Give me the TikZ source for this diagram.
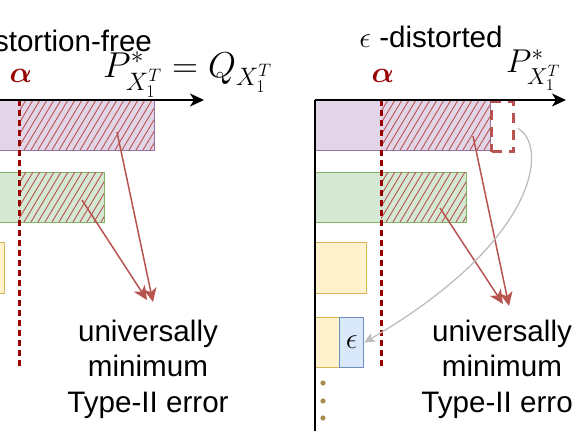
\RequirePackage{fix-cm}
\documentclass[tikz,border=0pt]{standalone}
\usepackage[no-math]{fontspec}
\setmainfont{Liberation Sans}
\usepackage{amsmath,amssymb,bm}
\usetikzlibrary{arrows.meta}
\definecolor{purfill}{HTML}{E1D5E7}
\definecolor{purline}{HTML}{9673A6}
\definecolor{grnfill}{HTML}{D5E8D4}
\definecolor{grnline}{HTML}{82B366}
\definecolor{yelfill}{HTML}{FFF2CC}
\definecolor{yelline}{HTML}{D6B656}
\definecolor{blufill}{HTML}{DAE8FC}
\definecolor{bluline}{HTML}{6C8EBF}
\definecolor{hatred}{HTML}{B85450}
\definecolor{alpred}{HTML}{990000}
\definecolor{dotbrown}{HTML}{A68B4C}
\definecolor{arrgray}{HTML}{BDBDBD}

% sketchy hatch between x0,x1 and y0(top),y1(bottom)
\newcommand{\hatchbox}[4]{%
  \begin{scope}
    \clip (#1,#3) rectangle (#2,#4);
    \foreach \h in {0,7,...,210}
      \draw[hat] (#1+\h-30,#4) -- ++(30,-50);
  \end{scope}}

\begin{document}
\begin{tikzpicture}[
  x=1pt,y=-1pt,
  every node/.style={font=\fontsize{29.6pt}{35.5pt}\selectfont},
  bar/.style={draw,line width=1.2pt,anchor=north west,inner sep=0pt,
              minimum height=50pt},
  BP/.style={bar,draw=purline,fill=purfill},
  BG/.style={bar,draw=grnline,fill=grnfill},
  BY/.style={bar,draw=yelline,fill=yelfill},
  BB/.style={bar,draw=bluline,fill=blufill},
  hat/.style={hatred,line width=0.9pt},
  al/.style={alpred,line width=3pt,dash pattern=on 6pt off 4pt},
  ax/.style={line width=1.6pt,-{Stealth[length=14pt,width=13pt,inset=4pt]}},
  ar/.style={hatred,line width=1.5pt,-{Stealth[length=14pt,width=13pt,inset=4pt]}},
  ag/.style={arrgray,line width=1.3pt,-{Stealth[length=11pt,width=10pt,inset=3pt]}},
  T/.style={align=center,inner sep=0pt}
]
\useasboundingbox (0,0) rectangle (574,431);
\clip (0,0) rectangle (574,431);

% left: distortion-free
\node[BP,minimum width=164pt](pL) at (-10,100) {};
\node[BG,minimum width=114pt](gL) at (-10,172) {};
\node[BY,minimum width=14pt,minimum height=51pt](yL) at (-10,242) {};
\hatchbox{19}{154}{100}{150}
\hatchbox{19}{104}{172}{222}
\draw[al] (19,100) -- (19,367);
\node[anchor=base](tL) at (59,52) {Distortion-free};
\node[alpred](aL) at (21,76) {$\bm{\alpha}$};
\node[anchor=base west,inner sep=0pt,font=\fontsize{36pt}{42pt}\selectfont](qL)
     at (103,77) {$P^*_{X_1^T}=Q_{X_1^T}$};
\coordinate (xL) at (-5,100);
\coordinate (xLe) at (204,100);
\draw[ax] (xL) -- (xLe);
\node[T](uL) at (148,369) {universally\\minimum\\Type-II error};
\coordinate (sL1) at (117,132);
\coordinate (sL2) at (82,200);
\coordinate (eL1) at (153,302);
\coordinate (eL2) at (147,300);
\draw[ar] (sL1) -- (eL1);
\draw[ar] (sL2) -- (eL2);

% right: epsilon-distorted
\node[BP,minimum width=175pt](pR) at (315,100) {};
\node[BG,minimum width=151pt](gR) at (315,172) {};
\node[BY,minimum width=51pt,minimum height=51pt](yR) at (315,242) {};
\node[BY,minimum width=24pt](y2R) at (315,317) {};
\node[BB,minimum width=24pt](bE) at (339,317) {$\epsilon$};
\hatchbox{381}{490}{100}{150}
\hatchbox{381}{466}{172}{222}
\node[bar,hatred,dashed,line width=3pt,dash pattern=on 10pt off 7pt,
      minimum width=22pt](dR) at (490,100) {};
\draw[al] (381,100) -- (381,367);
\foreach \y in {383,401,418}
  \fill[dotbrown] (323,\y) circle (2.6pt);
\node[anchor=base](tR) at (431,47) {$\epsilon$ -distorted};
\node[alpred](aR) at (383,76) {$\bm{\alpha}$};
\node[anchor=base west,inner sep=0pt,font=\fontsize{33pt}{40pt}\selectfont](qR)
     at (506,72) {$P^*_{X_1^T}$};
\coordinate (yB) at (315,440);
\coordinate (xR) at (315,100);
\coordinate (xRe) at (566,100);
\draw[line width=1.6pt] (yB) -- (xR);
\draw[ax] (xR) -- (xRe);
\node[T](uR) at (502,369) {universally\\minimum\\Type-II error};
\coordinate (sR1) at (473,136);
\coordinate (sR2) at (440,208);
\coordinate (eR1) at (509,306);
\coordinate (eR2) at (503,304);
\draw[ar] (sR1) -- (eR1);
\draw[ar] (sR2) -- (eR2);
\draw[ag] ([xshift=3pt,yshift=-2pt]dR.east) .. controls (548,145) and (540,240) .. (bE.east);
\end{tikzpicture}
\end{document}
